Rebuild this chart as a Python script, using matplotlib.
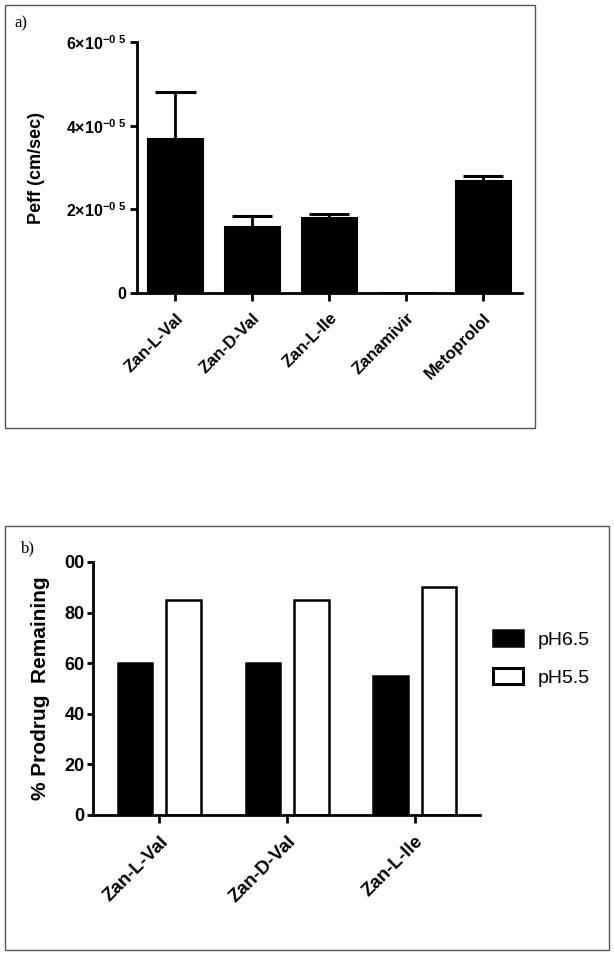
import numpy as np
import matplotlib
matplotlib.use("Agg")
import matplotlib.pyplot as plt
from matplotlib.patches import Rectangle, Patch

plt.rcParams['font.family'] = ['Liberation Sans', 'DejaVu Sans']
plt.rcParams['mathtext.fontset'] = 'custom'
plt.rcParams['mathtext.rm'] = 'Liberation Sans:bold'
plt.rcParams['mathtext.it'] = 'Liberation Sans:bold'
plt.rcParams['mathtext.bf'] = 'Liberation Sans:bold'
plt.rcParams['mathtext.default'] = 'rm'

# a) permeability
drugs_a = ["Zan-L-Val", "Zan-D-Val", "Zan-L-Ile", "Zanamivir", "Metoprolol"]
peff = [3.68e-5, 1.57e-5, 1.80e-5, 0.0, 2.68e-5]
peff_err = [1.12e-5, 0.26e-5, 0.10e-5, 0.0, 0.12e-5]
yticks_a = [0, 2e-5, 4e-5, 6e-5]
yticklabels_a = ["0", r"$2{\times}10^{-0\ 5}$", r"$4{\times}10^{-0\ 5}$", r"$6{\times}10^{-0\ 5}$"]

# b) stability
drugs_b = ["Zan-L-Val", "Zan-D-Val", "Zan-L-Ile"]
ph65 = [60, 60, 55]
ph55 = [85, 85, 90]
yticks_b = [0, 20, 40, 60, 80, 100]
yticklabels_b = ["0", "20", "40", "60", "80", "00"]

fig = plt.figure(figsize=(6.14, 9.57), dpi=100)

def style(ax, xpad, ylen, ypad):
    for s in ['top', 'right']:
        ax.spines[s].set_visible(False)
    for s in ['left', 'bottom']:
        ax.spines[s].set_linewidth(2.0)
    ax.tick_params(axis='y', direction='out', length=ylen, width=2.0, pad=ypad)
    ax.tick_params(axis='x', direction='out', length=5.5, width=2.0, pad=xpad)

# ---- panel a
ax1 = fig.add_axes([0.2231, 0.6938, 0.627, 0.2623])
x = np.arange(len(drugs_a))
ax1.bar(x, peff, width=0.71, color='black', edgecolor='black', linewidth=1.5, zorder=2)
top = np.array(peff) + np.array(peff_err)
m = np.array(peff_err) > 0
ax1.vlines(x[m], np.array(peff)[m], top[m], color='black', linewidth=2.0, zorder=3)
ax1.hlines(top[m], x[m] - 0.26, x[m] + 0.26, color='black', linewidth=2.2, zorder=3)
ax1.set_xlim(-0.5, 4.5)
ax1.set_ylim(0, 6e-5)
ax1.set_yticks(yticks_a)
ax1.set_yticklabels(yticklabels_a, fontsize=11.5, fontweight='bold')
ax1.set_xticks(x)
ax1.set_xticklabels(drugs_a, rotation=45, ha='right', rotation_mode='anchor',
                    fontsize=12.2, fontweight='bold')
ax1.set_ylabel("Peff (cm/sec)", fontsize=13, fontweight='bold')
ax1.yaxis.set_label_coords(-0.239, 0.5)
style(ax1, 7, 5, 3)

# ---- panel b
ax2 = fig.add_axes([0.1515, 0.1484, 0.630, 0.2644])
xb = np.arange(len(drugs_b))
ax2.bar(xb - 0.19, ph65, width=0.27, color='black', edgecolor='black', linewidth=1.8,
        label='pH6.5', zorder=2)
ax2.bar(xb + 0.19, ph55, width=0.27, color='white', edgecolor='black', linewidth=1.8,
        label='pH5.5', zorder=2)
ax2.set_xlim(-0.52, 2.51)
ax2.set_ylim(0, 100)
ax2.set_yticks(yticks_b)
ax2.set_yticklabels(yticklabels_b, fontsize=13, fontweight='bold')
ax2.set_xticks(xb)
ax2.set_xticklabels(drugs_b, rotation=45, ha='right', rotation_mode='anchor',
                    fontsize=13.5, fontweight='bold')
ax2.set_ylabel("% Prodrug  Remaining", fontsize=15, fontweight='bold')
ax2.yaxis.set_label_coords(-0.111, 0.5)
style(ax2, 7.5, 4.5, 1.5)
handles = [Patch(facecolor='black', edgecolor='black', linewidth=1.8),
           Patch(facecolor='white', edgecolor='black', linewidth=2.2)]
ax2.legend(handles, ['pH6.5', 'pH5.5'], loc='upper left', bbox_to_anchor=(1.035, 0.73),
           frameon=False, fontsize=14, handlelength=1.5, handleheight=0.85,
           handletextpad=0.8, labelspacing=1.0, borderaxespad=0, borderpad=0)

# panel frames and letters
fig.add_artist(Rectangle((0.0081, 0.5528), 0.863, 0.442, transform=fig.transFigure,
                         fill=False, edgecolor='#555555', linewidth=1.0))
fig.add_artist(Rectangle((0.0081, 0.0073), 0.9837, 0.443, transform=fig.transFigure,
                         fill=False, edgecolor='#555555', linewidth=1.0))
fig.text(14 / 614, 1 - 23 / 957, "a)", family=['Liberation Serif', 'DejaVu Serif'],
         fontsize=12, va='center', ha='left')
fig.text(21 / 614, 1 - 548 / 957, "b)", family=['Liberation Serif', 'DejaVu Serif'],
         fontsize=12, va='center', ha='left')

fig.savefig("out.png", dpi=100)
